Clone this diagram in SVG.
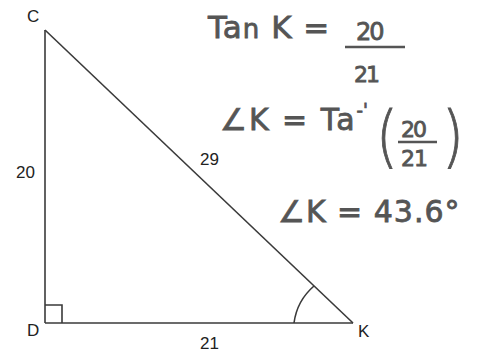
<svg xmlns="http://www.w3.org/2000/svg" width="494" height="354" viewBox="0 0 494 354">
<style>
.ln{stroke:#3a3a3a;stroke-width:1.6;fill:none}
.lb{font-family:"Liberation Sans",Arial,sans-serif;font-size:17px;fill:#222}
.hw{font-family:"DejaVu Sans","Liberation Sans",sans-serif;fill:#555;stroke:#555;stroke-width:0.8}
</style>
<rect width="494" height="354" fill="#fff"/>
<g id="connectors">
<line class="ln" x1="45" y1="30" x2="45" y2="323"/>
<line class="ln" x1="45" y1="323" x2="353" y2="323"/>
<line class="ln" x1="45" y1="30" x2="353" y2="323"/>
<polyline class="ln" points="45,305 62,305 62,323"/>
<path class="ln" d="M294,323 A59,59 0 0 1 314,286" stroke-width="2.2" stroke="#555"/>
</g>
<g id="C"><text class="lb" x="27" y="22">C</text></g>
<g id="D"><text class="lb" x="27" y="336">D</text></g>
<g id="K"><text class="lb" x="358" y="337">K</text></g>
<g id="side20"><text class="lb" x="16" y="178">20</text></g>
<g id="side29"><text class="lb" x="200" y="165">29</text></g>
<g id="side21"><text class="lb" x="200" y="349">21</text></g>
<g id="work">
<text class="hw" x="208" y="38" font-size="31" letter-spacing="1">Ta<tspan font-size="26">n</tspan> K = </text>
<text class="hw" x="356" y="40" font-size="24" letter-spacing="-2">20</text>
<line x1="345" y1="47" x2="405" y2="47" stroke="#555" stroke-width="2.5"/>
<text class="hw" x="354" y="82" font-size="22" letter-spacing="-2">21</text>
<text class="hw" x="220" y="130" font-size="30" letter-spacing="2">∠K = Ta<tspan font-size="18" dy="-14" letter-spacing="0">-'</tspan></text>
<text class="hw" transform="translate(376,160) scale(1,1.2)" font-size="56" font-weight="300" stroke-width="0.3">(</text>
<text class="hw" x="401" y="137" font-size="22" letter-spacing="-2">20</text>
<line x1="398" y1="142" x2="437" y2="142" stroke="#555" stroke-width="2.5"/>
<text class="hw" x="401" y="166" font-size="22" letter-spacing="-1">21</text>
<text class="hw" transform="translate(442,160) scale(1,1.2)" font-size="56" font-weight="300" stroke-width="0.3">)</text>
<text class="hw" x="278" y="222" font-size="30" letter-spacing="1">∠K = 43.6°</text>
</g>
</svg>
